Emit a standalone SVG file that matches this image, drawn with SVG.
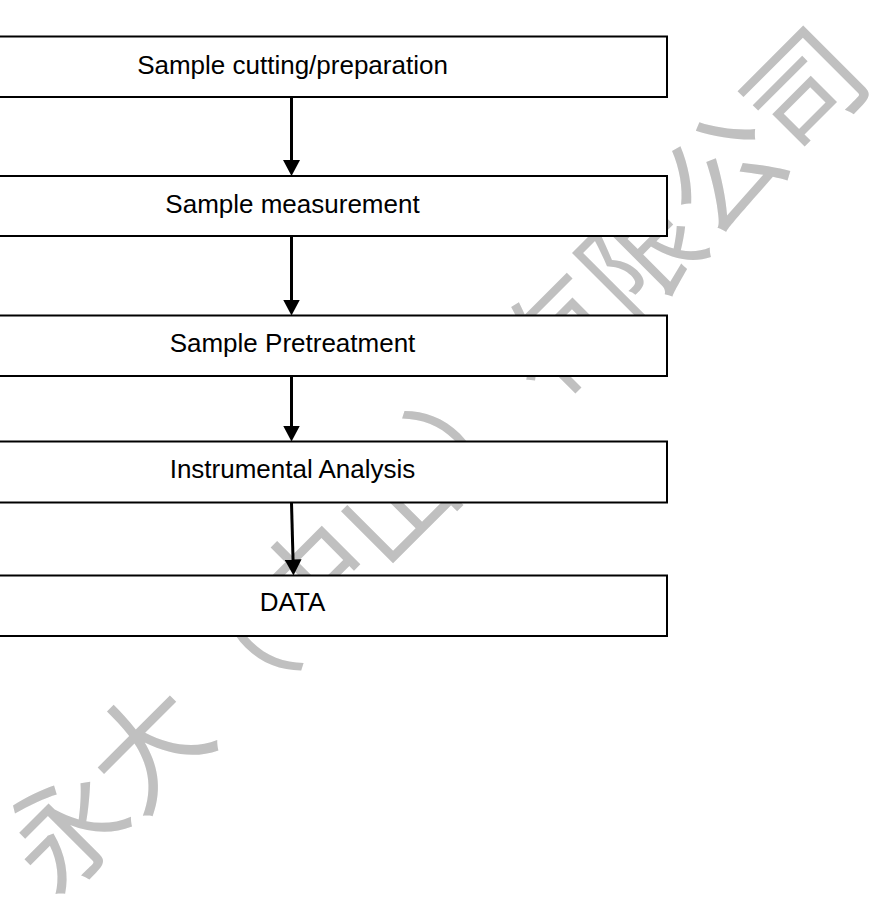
<svg xmlns="http://www.w3.org/2000/svg" width="873" height="900" viewBox="0 0 873 900">
  <style>
    .box { fill: #ffffff; stroke: #000000; stroke-width: 2; }
    .label { font-family: "Liberation Sans", Arial, sans-serif; font-size: 26px; fill: #000000; text-anchor: middle; }
    .wm { font-family: "Noto Sans CJK SC", "Noto Sans CJK JP", sans-serif; font-size: 116px; fill: #c0c0c0; text-anchor: middle; }
    .conn { stroke: #000000; stroke-width: 3; fill: none; }
  </style>
  <defs>
    <marker id="arrow" markerUnits="userSpaceOnUse" markerWidth="17" markerHeight="17" refX="6" refY="8.5" orient="auto">
      <path d="M0,0 L16,8.5 L0,17 Z" fill="#000000"/>
    </marker>
  </defs>
  <rect width="873" height="900" fill="#ffffff"/>
  <g id="watermark">
    <text class="wm" x="466" y="490" transform="rotate(-45 466 490)">永大（中山）有限公司</text>
  </g>
  <g id="node-cutting">
    <rect class="box" x="-10" y="36.5" width="677" height="60.5"/>
    <text class="label" x="292.5" y="74">Sample cutting/preparation</text>
  </g>
  <g id="node-measurement">
    <rect class="box" x="-10" y="176" width="677" height="60"/>
    <text class="label" x="292.5" y="212.5">Sample measurement</text>
  </g>
  <g id="node-pretreatment">
    <rect class="box" x="-10" y="315.5" width="677" height="60.5"/>
    <text class="label" x="292.5" y="352">Sample Pretreatment</text>
  </g>
  <g id="node-analysis">
    <rect class="box" x="-10" y="441.5" width="677" height="61"/>
    <text class="label" x="292.5" y="477.5">Instrumental Analysis</text>
  </g>
  <g id="node-data">
    <rect class="box" x="-10" y="575.5" width="677" height="60.5"/>
    <text class="label" x="292.5" y="611">DATA</text>
  </g>
  <g id="connectors">
    <line class="conn" x1="291.5" y1="97.5" x2="291.5" y2="166" marker-end="url(#arrow)"/>
    <line class="conn" x1="291.5" y1="237" x2="291.5" y2="305.5" marker-end="url(#arrow)"/>
    <line class="conn" x1="291.5" y1="376.5" x2="291.5" y2="431.5" marker-end="url(#arrow)"/>
    <line class="conn" x1="291.5" y1="503" x2="293.2" y2="565.5" marker-end="url(#arrow)"/>
  </g>
</svg>
